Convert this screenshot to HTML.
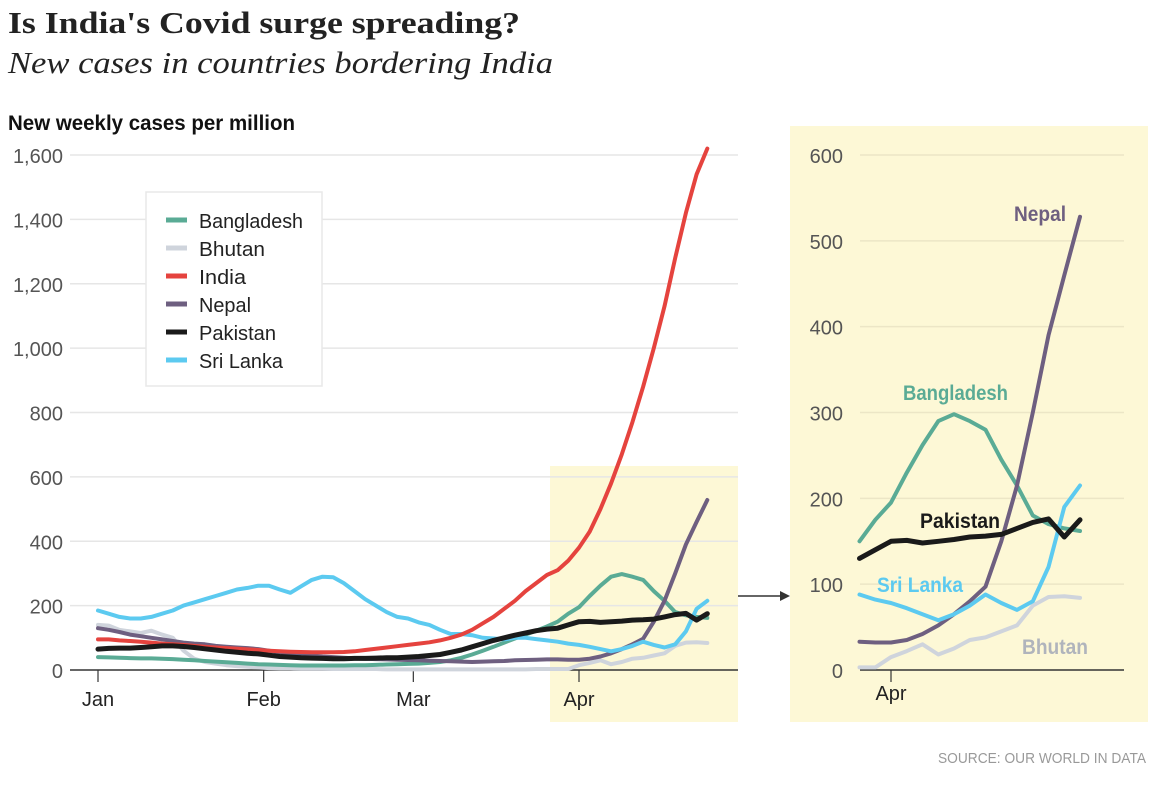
<!DOCTYPE html>
<html><head><meta charset="utf-8"><style>
body{margin:0;background:#fff;width:1168px;height:786px;overflow:hidden}
svg{display:block}
.tk{font-family:"Liberation Sans Narrow","Liberation Sans",sans-serif;font-size:20px;fill:#555}
.xt{font-family:"Liberation Sans Narrow","Liberation Sans",sans-serif;font-size:20px;fill:#222}
</style></head><body>
<svg id="c" width="1168" height="786">
<text x="8" y="33" font-family="Liberation Serif,serif" font-weight="bold" font-size="31" fill="#222" textLength="512" lengthAdjust="spacingAndGlyphs">Is India's Covid surge spreading?</text>
<text x="8" y="73" font-family="Liberation Serif,serif" font-style="italic" font-size="31" fill="#222" textLength="545" lengthAdjust="spacingAndGlyphs">New cases in countries bordering India</text>
<text x="8" y="130" font-family="Liberation Sans Narrow,Liberation Sans,sans-serif" font-weight="bold" font-size="21" fill="#111" textLength="287" lengthAdjust="spacingAndGlyphs">New weekly cases per million</text>
<rect x="550" y="466" width="188" height="256" fill="#fdf8d6"/>
<rect x="790" y="126" width="358" height="596" fill="#fdf8d6"/>
<g id="main"></g><g id="inset"></g>
<line x1="738" y1="596" x2="782" y2="596" stroke="#333" stroke-width="1.5"/>
<polygon points="790,596 780,591 780,601" fill="#333"/>
<text x="1146" y="763" text-anchor="end" font-family="Liberation Sans Narrow,Liberation Sans,sans-serif" font-size="15" fill="#999" textLength="208" lengthAdjust="spacingAndGlyphs">SOURCE: OUR WORLD IN DATA</text>
</svg>
<script>
const days=[0,2,4,6,8,10,12,14,16,18,20,22,24,26,28,30,32,34,36,38,40,42,44,46,48,50,52,54,56,58,60,62,64,66,68,70,72,74,76,78,80,82,84,86,88,90,92,94,96,98,100,102,104,106,108,110,112,114];
const india=[95,95,92,90,88,85,82,80,78,75,72,70,68,66,64,62,60,58,57,56,55,55,55,56,58,62,66,70,74,78,82,86,92,100,110,125,145,165,190,215,245,270,295,310,340,380,430,500,580,670,770,880,1000,1130,1280,1420,1540,1620];
const bangladesh=[40,39,38,37,36,36,35,34,32,30,28,26,24,22,20,18,17,16,15,14,14,14,14,14,15,15,16,17,18,19,20,22,25,30,38,48,60,72,85,98,110,122,135,150,175,195,230,262,290,298,290,280,245,215,180,170,165,162];
const pakistan=[65,67,68,68,70,72,75,75,73,70,66,62,58,55,52,50,46,42,40,38,37,36,35,35,36,36,37,38,38,40,42,45,48,55,62,72,82,92,100,108,115,122,127,130,140,150,151,148,150,152,155,156,158,165,172,176,155,175];
const nepal=[130,125,118,110,105,100,95,90,85,82,80,75,72,70,68,65,60,55,50,47,45,42,40,38,36,35,34,33,32,31,30,29,28,27,26,25,26,27,28,30,31,32,33,33,32,32,35,42,52,65,80,97,150,215,300,390,460,528];
const srilanka=[185,175,165,160,160,165,175,185,200,210,220,230,240,250,255,262,262,250,240,260,280,290,288,270,245,220,200,180,165,160,148,140,125,112,112,108,100,98,95,100,100,96,92,88,82,78,72,65,58,65,75,88,78,70,80,120,190,215];
const bhutan=[140,138,125,120,115,122,110,100,60,35,25,20,15,12,10,8,6,5,5,4,4,4,3,3,3,3,3,2,2,2,2,2,2,2,2,2,2,2,2,2,2,3,3,3,3,15,22,30,18,25,35,38,45,52,75,85,86,84];
const mainTicks=[0,200,400,600,800,1000,1200,1400,1600];
const insetTicks=[0,100,200,300,400,500,600];
const monthLabels=["Jan","Feb","Mar","Apr"];
const monthDays=[0,31,59,90];
const series=[["bhutan",bhutan,"#cfd4dc"],["bangladesh",bangladesh,"#5aab95"],["nepal",nepal,"#6e5f80"],["srilanka",srilanka,"#5ccaf0"],["india",india,"#e5433e"],["pakistan",pakistan,"#1a1a1a"]];
const NS="http://www.w3.org/2000/svg";
function mk(p,t,a){const e=document.createElementNS(NS,t);for(const k in a)e.setAttribute(k,a[k]);p.appendChild(e);return e;}
function fmt(v){return v.toLocaleString("en-US");}
const M=document.getElementById("main");
const mx=d=>98+d*(481/90), my=v=>670-v*(515/1600);
mainTicks.forEach(t=>{
 if(t>0){const l=mk(M,"line",{x1:70,x2:738,y1:my(t),y2:my(t),stroke:"#e6e6e6","stroke-width":1.5});
 
 }
 const tx=mk(M,"text",{x:63,y:my(t)+8,"text-anchor":"end",class:"tk"});tx.textContent=fmt(t);
 
 
});
const ax=mk(M,"line",{x1:70,x2:738,y1:670,y2:670,stroke:"#333","stroke-width":1.5});


monthLabels.forEach((m,i)=>{
 const x=mx(monthDays[i]);
 const tl=mk(M,"line",{x1:x,x2:x,y1:670,y2:682,stroke:"#333","stroke-width":1.2});
 
 
 const tx=mk(M,"text",{x:x,y:706,"text-anchor":"middle",class:"xt"});tx.textContent=m;
 
 
});
const lg=mk(M,"g",{});


mk(lg,"rect",{x:146,y:192,width:176,height:194,fill:"#fff",stroke:"#e8e8e8","stroke-width":1.5});
const legNames=["Bangladesh","Bhutan","India","Nepal","Pakistan","Sri Lanka"];
const legLens=[104,66,47,52,77,84];
const legCols=["#5aab95","#cfd4dc","#e5433e","#6e5f80","#1a1a1a","#5ccaf0"];
legNames.forEach((n,i)=>{
 const y=220+i*28;
 const g=mk(lg,"g",{});
 
 
 mk(g,"line",{x1:166,x2:187,y1:y,y2:y,stroke:legCols[i],"stroke-width":5});
 const t=mk(g,"text",{x:199,y:y+8,class:"xt",textLength:legLens[i],lengthAdjust:"spacingAndGlyphs"});t.textContent=n;
});
series.forEach(([n,vals,c])=>{
 const pts=vals.map((v,i)=>mx(days[i]).toFixed(1)+","+my(v).toFixed(1)).join(" ");
 const p=mk(M,"polyline",{points:pts,fill:"none",stroke:c,"stroke-width":n=="pakistan"?5:4,"stroke-linejoin":"round","stroke-linecap":"round"});
 
 
});
const I=document.getElementById("inset");
const ix=d=>891+(d-90)*7.875, iy=v=>670-v*(515/600);
insetTicks.forEach(t=>{
 if(t>0){const l=mk(I,"line",{x1:860,x2:1124,y1:iy(t),y2:iy(t),stroke:"#ece6c6","stroke-width":1.5});
 
 }
 const tx=mk(I,"text",{x:843,y:iy(t)+8,"text-anchor":"end",class:"tk"});tx.textContent=t;
 
 
});
const iax=mk(I,"line",{x1:860,x2:1124,y1:670,y2:670,stroke:"#333","stroke-width":1.5});


const itk=mk(I,"line",{x1:ix(90),x2:ix(90),y1:670,y2:682,stroke:"#333","stroke-width":1.2});


const ixt=mk(I,"text",{x:ix(90),y:700,"text-anchor":"middle",class:"xt"});ixt.textContent="Apr";


series.forEach(([n,vals,c])=>{
 if(n=="india")return;
 const pts=[];vals.forEach((v,i)=>{if(days[i]>=86)pts.push(ix(days[i]).toFixed(1)+","+iy(v).toFixed(1));});
 const p=mk(I,"polyline",{points:pts.join(" "),fill:"none",stroke:c,"stroke-width":n=="pakistan"?5:4,"stroke-linejoin":"round","stroke-linecap":"round"});
 
 
});
const labs=[["Nepal",1014,221,"#6e5f80",52],["Bangladesh",903,400,"#5aab95",105],["Pakistan",920,528,"#1a1a1a",80],["Sri Lanka",877,592,"#5ccaf0",86],["Bhutan",1022,654,"#b0b4bc",66]];
labs.forEach(([t,x,y,c,w])=>{
 const e=mk(I,"text",{x:x,y:y,fill:c,textLength:w,lengthAdjust:"spacingAndGlyphs","font-family":"Liberation Sans Narrow,Liberation Sans,sans-serif","font-weight":"bold","font-size":21});e.textContent=t;
 
 
});
</script>
</body></html>
